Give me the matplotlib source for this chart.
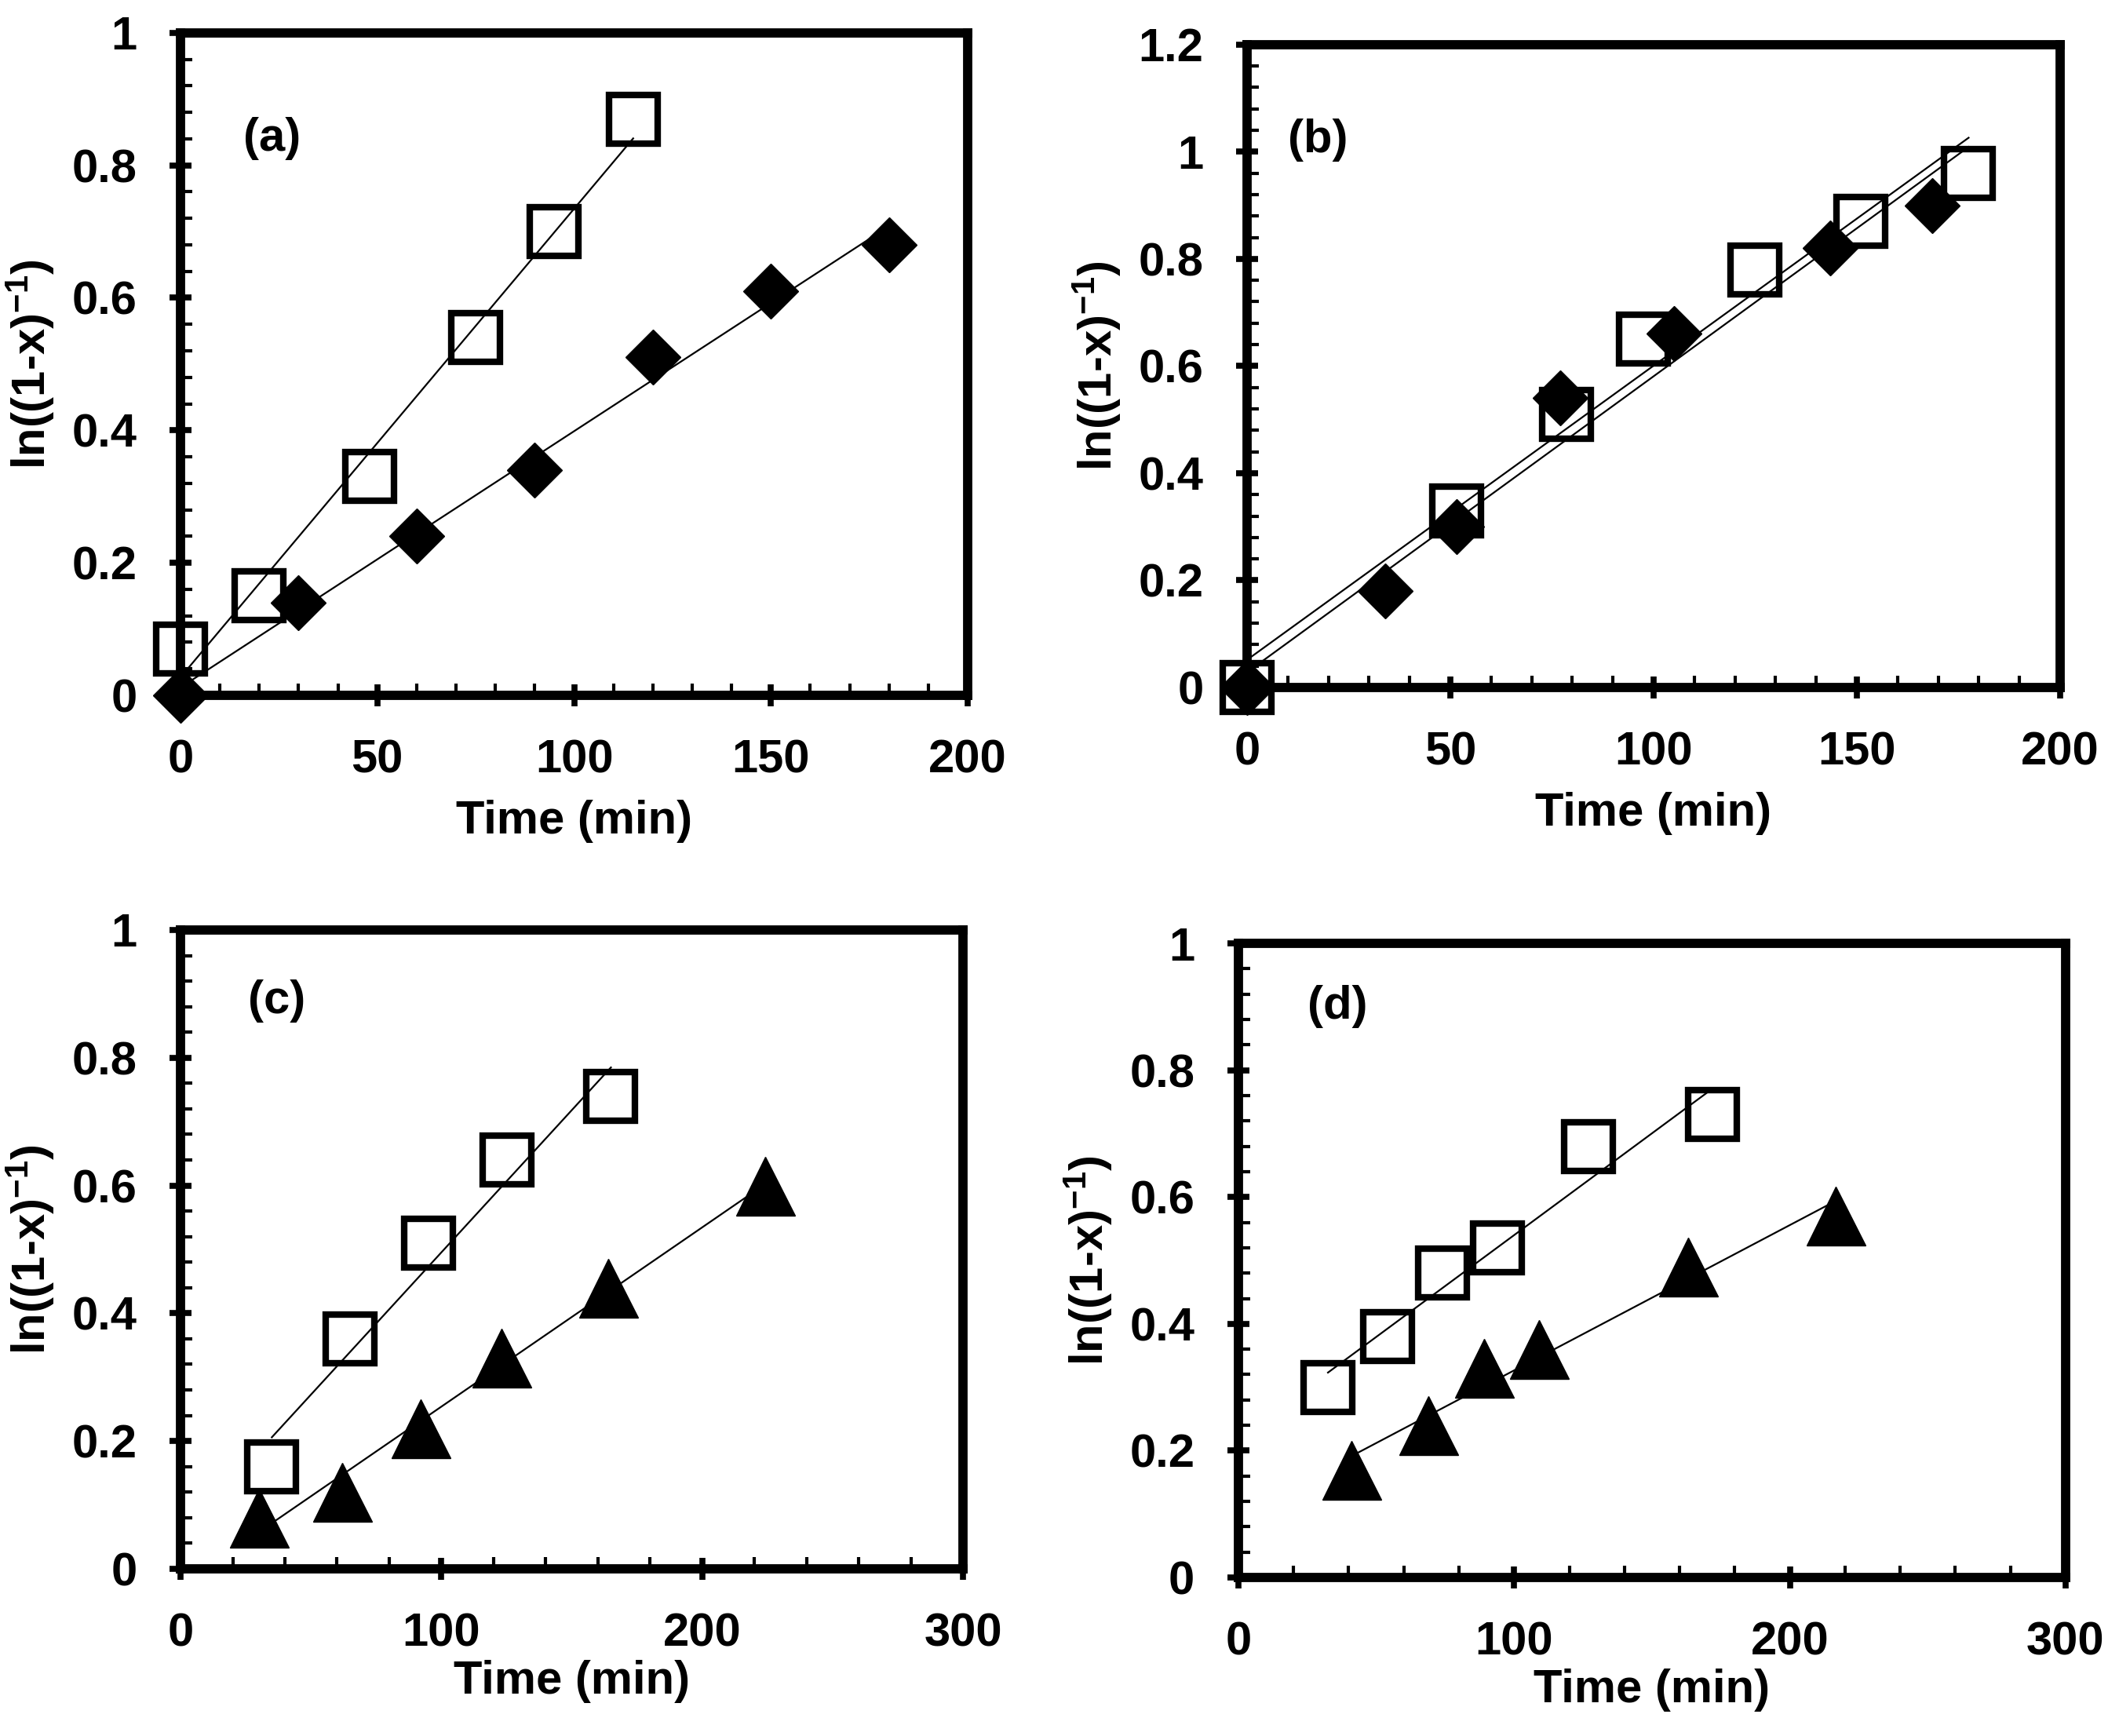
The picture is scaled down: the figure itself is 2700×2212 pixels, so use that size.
import numpy as np
import matplotlib

matplotlib.use("Agg")
import matplotlib.pyplot as plt
from matplotlib.ticker import MultipleLocator, FuncFormatter

# --- data ------------------------------------------------------------------
# (a) open squares / filled diamonds
a_sq_t = [0, 20, 48, 75, 95, 115]
a_sq_y = [0.07, 0.15, 0.33, 0.54, 0.70, 0.87]
a_di_t = [0, 30, 60, 90, 120, 150, 180]
a_di_y = [0.0, 0.14, 0.24, 0.34, 0.51, 0.61, 0.68]

# (b) open squares / filled diamonds
b_sq_t = [0, 51.5, 78.5, 97.5, 125, 151, 177.5]
b_sq_y = [0.0, 0.33, 0.51, 0.65, 0.78, 0.87, 0.96]
b_di_t = [0, 34, 51.5, 77, 105, 143.5, 168.5]
b_di_y = [0.0, 0.18, 0.30, 0.54, 0.66, 0.82, 0.90]

# (c) open squares / filled triangles
c_sq_t = [35, 65, 95, 125, 165]
c_sq_y = [0.16, 0.36, 0.51, 0.64, 0.74]
c_tr_t = [30, 62, 92, 123, 164, 224]
c_tr_y = [0.08, 0.12, 0.22, 0.33, 0.44, 0.60]

# (d) open squares / filled triangles
d_sq_t = [32.5, 54, 74, 94, 127, 172]
d_sq_y = [0.30, 0.38, 0.48, 0.52, 0.68, 0.73]
d_tr_t = [41, 69, 89, 109, 163, 216.5]
d_tr_y = [0.17, 0.24, 0.33, 0.36, 0.49, 0.57]

FONT = ["Liberation Sans", "DejaVu Sans"]
plt.rcParams["font.family"] = FONT
plt.rcParams["font.weight"] = "bold"
plt.rcParams["mathtext.fontset"] = "custom"
plt.rcParams["mathtext.rm"] = "Liberation Sans:bold"
plt.rcParams["mathtext.bf"] = "Liberation Sans:bold"
plt.rcParams["mathtext.it"] = "Liberation Sans:bold"
plt.rcParams["mathtext.default"] = "bf"

FS = 43
SPINE = 8.5
YLABEL = r"ln((1-x)$^{-1}$)"

fig = plt.figure(figsize=(27, 22.12), dpi=100)

rects = {
    "a": [0.0852, 0.5995, 0.3715, 0.3816],
    "b": [0.5885, 0.6040, 0.3837, 0.3703],
    "c": [0.0852, 0.0963, 0.3693, 0.3680],
    "d": [0.5844, 0.0913, 0.3904, 0.3653],
}


def trend(ax, t, y, tmax=None):
    """Least-squares straight line through a series, drawn over its time span."""
    k, b0 = np.polyfit(t, y, 1)
    xs = np.array([min(t), max(t) if tmax is None else tmax])
    ax.plot(xs, k * xs + b0, color="black", lw=1.6, zorder=2)


def style(ax, xmax, xmajor, xminor, ymax, xlabpad, tag, tagpos):
    ax.set_xlim(0, xmax)
    ax.set_ylim(0, ymax)
    ax.xaxis.set_major_locator(MultipleLocator(xmajor))
    ax.xaxis.set_minor_locator(MultipleLocator(xminor))
    ax.yaxis.set_major_locator(MultipleLocator(0.2))
    ax.yaxis.set_minor_locator(MultipleLocator(0.04))
    fmt = FuncFormatter(lambda v, p: f"{v:g}")
    ax.xaxis.set_major_formatter(fmt)
    ax.yaxis.set_major_formatter(fmt)
    ax.tick_params(which="major", direction="inout", length=20, width=5.5,
                   labelsize=FS, pad=30, top=False, right=False)
    ax.tick_params(which="minor", direction="in", length=11, width=3,
                   top=False, right=False)
    for s in ax.spines.values():
        s.set_linewidth(SPINE)
    ax.set_xlabel("Time (min)", fontsize=FS, fontweight="bold", labelpad=xlabpad)
    ax.set_ylabel(YLABEL, fontsize=FS, fontweight="bold", labelpad=14)
    ax.text(tagpos[0], tagpos[1], tag, transform=ax.transAxes, fontsize=FS,
            fontweight="bold", ha="left", va="center")


sq = dict(marker="s", ms=44, mfc="none", mec="black", mew=6, ls="none",
          clip_on=False, zorder=3)
di = dict(marker="D", ms=36, mfc="black", mec="black", mew=1, ls="none",
          clip_on=False, zorder=3)
tr = dict(marker="^", ms=54, mfc="black", mec="black", mew=1, ls="none",
          clip_on=False, zorder=3)

# (a)
ax = fig.add_axes(rects["a"])
trend(ax, a_sq_t, a_sq_y)
trend(ax, a_di_t, a_di_y)
ax.plot(a_di_t, a_di_y, **di)
ax.plot(a_sq_t, a_sq_y, **sq)
style(ax, 200, 50, 10, 1.0, 16, "(a)", (0.08, 0.84))

# (b)
ax = fig.add_axes(rects["b"])
tend = max(b_sq_t)
trend(ax, b_sq_t, b_sq_y, tend)
trend(ax, b_di_t, b_di_y, tend)
ax.plot(b_di_t, b_di_y, **di)
ax.plot(b_sq_t, b_sq_y, **sq)
style(ax, 200, 50, 10, 1.2, 16, "(b)", (0.05, 0.852))

# (c)
ax = fig.add_axes(rects["c"])
trend(ax, c_sq_t, c_sq_y)
trend(ax, c_tr_t, c_tr_y)
ax.plot(c_tr_t, c_tr_y, **tr)
ax.plot(c_sq_t, c_sq_y, **sq)
style(ax, 300, 100, 20, 1.0, 4, "(c)", (0.086, 0.889))

# (d)
ax = fig.add_axes(rects["d"])
trend(ax, d_sq_t, d_sq_y)
trend(ax, d_tr_t, d_tr_y)
ax.plot(d_tr_t, d_tr_y, **tr)
ax.plot(d_sq_t, d_sq_y, **sq)
style(ax, 300, 100, 20, 1.0, 4, "(d)", (0.084, 0.90))

fig.savefig("out.png", dpi=100, facecolor="white")
